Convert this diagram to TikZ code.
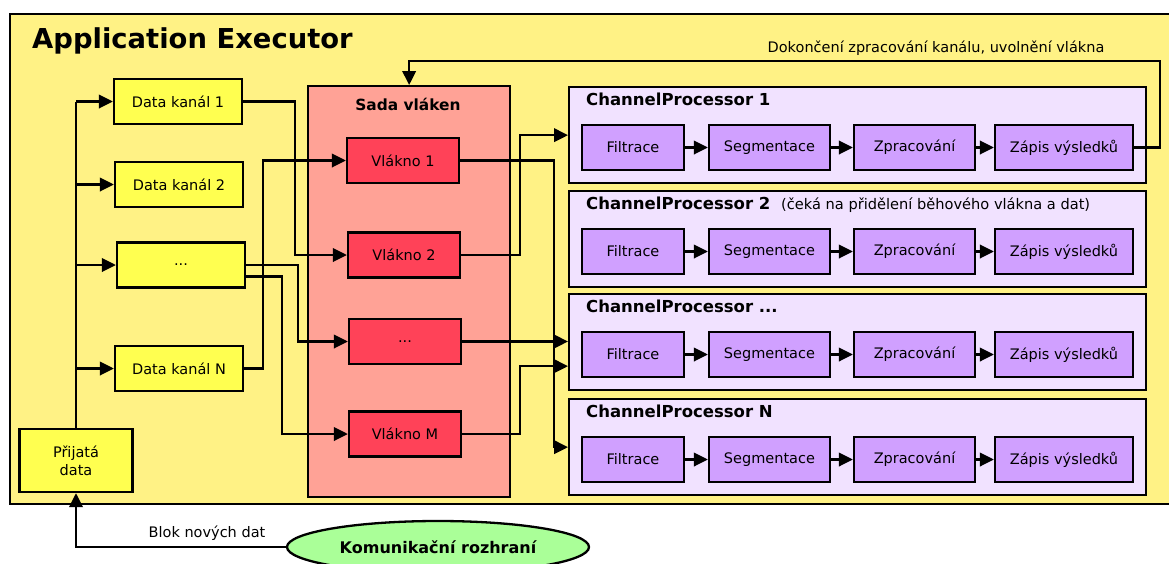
\documentclass[tikz,border=0pt]{standalone}
\usepackage{fontspec}
\setmainfont{DejaVu Sans}
\usetikzlibrary{arrows.meta,shapes.geometric,calc}
\definecolor{execbg}{RGB}{255,242,133}
\definecolor{datayel}{RGB}{255,255,80}
\definecolor{poolbg}{RGB}{255,162,150}
\definecolor{threadred}{RGB}{255,66,88}
\definecolor{procbg}{RGB}{241,226,255}
\definecolor{stagebg}{RGB}{208,160,255}
\definecolor{ifacegreen}{RGB}{170,255,152}
\newcommand\fsreg{\fontsize{14.5}{18}\selectfont}
\newcommand\fshead{\fontsize{16.5}{19}\selectfont\bfseries}
\newcommand\cpmore{ChannelProcessor ...}
\begin{document}
\begin{tikzpicture}[x=1pt,y=1pt,
  wire/.style={line width=2.3, draw=black},
  arr/.style={wire, -{Triangle[length=14,width=13.5]}},
  box/.style={draw=black, line width=2.3, inner sep=0, align=center, font=\fsreg},
  datab/.style={box, fill=datayel, minimum width=128, minimum height=45},
  threadb/.style={box, fill=threadred, minimum width=112, minimum height=45},
  procb/.style={box, fill=procbg, minimum width=577, minimum height=96, anchor=north west},
  stageb/.style={box, fill=stagebg, minimum height=45},
  headtxt/.style={font=\fshead, inner sep=0, anchor=base west},
  lbl/.style={font=\fsreg, inner sep=0, anchor=base}
]
\useasboundingbox (0,0) rectangle (1169,-563);
\clip (0,0) rectangle (1169,-563);

% executor frame and title
\node[box, fill=execbg, anchor=north west, minimum width=1162, minimum height=490] (exec) at (9,-13) {};
\node[font=\fontsize{27.4}{32}\selectfont\bfseries, inner sep=0, anchor=base west] (title) at (32,-48) {Application Executor};

% thread pool
\node[box, fill=poolbg, anchor=north west, minimum width=202, minimum height=411] (sada) at (307,-85) {};
\node[font=\fontsize{15.4}{18}\selectfont\bfseries, inner sep=0, anchor=base] (sadat) at (408,-110) {Sada vláken};

% incoming data and data channels
\node[box, fill=datayel, minimum width=113, minimum height=63] (prij) at (76,-460.5) {Přijatá\\data};
\node[datab] (dk1) at (178,-101.5) {Data kanál 1};
\node[datab] (dk2) at (179,-184.5) {Data kanál 2};
\node[datab] (dkd) at (181,-265) {...};
\node[datab] (dkN) at (179,-368.5) {Data kanál N};

% threads
\node[threadb] (v1) at (403,-160.5) {Vlákno 1};
\node[threadb] (v2) at (404,-255) {Vlákno 2};
\node[threadb] (vd) at (405,-341.5) {...};
\node[threadb] (vM) at (405,-434) {Vlákno M};

% channel processors with their stages
\foreach \n/\top/\title in {1/86/{ChannelProcessor 1}, 2/190/{ChannelProcessor 2}, d/293/\cpmore, N/398/{ChannelProcessor N}}{
  \node[procb] (cp\n) at (568,-\top) {};
  \node[headtxt] (cpt\n) at (586,-\top-19.5) {\title};
  \node[stageb, minimum width=102] (f\n) at (633,-\top-61.5) {Filtrace};
  \node[stageb, minimum width=121] (s\n) at (769.5,-\top-61.5) {Segmentace};
  \node[stageb, minimum width=121] (p\n) at (914.5,-\top-61.5) {Zpracování};
  \node[stageb, minimum width=138] (z\n) at (1064,-\top-61.5) {Zápis výsledků};
  \draw[arr] (f\n.east) -- (s\n.west);
  \draw[arr] (s\n.east) -- (p\n.west);
  \draw[arr] (p\n.east) -- (z\n.west);
}
\node[font=\fontsize{14.6}{18}\selectfont, inner sep=0, anchor=base west] (wait) at (781,-209.5) {(čeká na přidělení běhového vlákna a dat)};

% communication interface
\node[ellipse, draw=black, line width=2.3, fill=ifacegreen, minimum width=302, minimum height=52, inner sep=0, font=\fontsize{16}{19}\selectfont\bfseries] (kom) at (438,-547) {Komunikační rozhraní};

% distribution of incoming data
\draw[wire] (prij.north) -- (dk1.west -| prij.north);
\foreach \d in {dk1,dk2,dkd,dkN}{
  \draw[arr] (\d.west -| prij.north) -- (\d.west);
}

% data channels to threads
\draw[arr] (dk1.east) -- ++(52,0) |- (v2.west);
\draw[arr] (dkN.east) -- ++(19,0) |- (v1.west);
\draw[arr] (dkd.east) -- ++(52,0) |- (vd.west);
\draw[arr] ($(dkd.east)+(0,-11.5)$) -- ++(36,0) |- (vM.west);

% threads to channel processors
\draw[arr] (v1.east) -- ++(94,0) |- (cpN.west);
\draw[arr] (v2.east) -- ++(59,0) |- (cp1.west);
\draw[arr] (vd.east) -- (vd.east -| cpd.west);
\draw[arr] (vM.east) -- ++(58,0) |- ($(cpd.west)+(0,-24)$);

% finished channel releases its thread
\coordinate (back) at ($(sada.north)+(0,24)$);
\draw[arr] (z1.east) -- ++(26,0) |- (back) -- (sada.north);
\node[lbl] (donel) at (936,-52) {Dokončení zpracování kanálu, uvolnění vlákna};

% new data block from the interface
\draw[arr] (kom.west) -| (prij.south);
\node[lbl] (blokl) at (207,-537) {Blok nových dat};
\end{tikzpicture}
\end{document}
